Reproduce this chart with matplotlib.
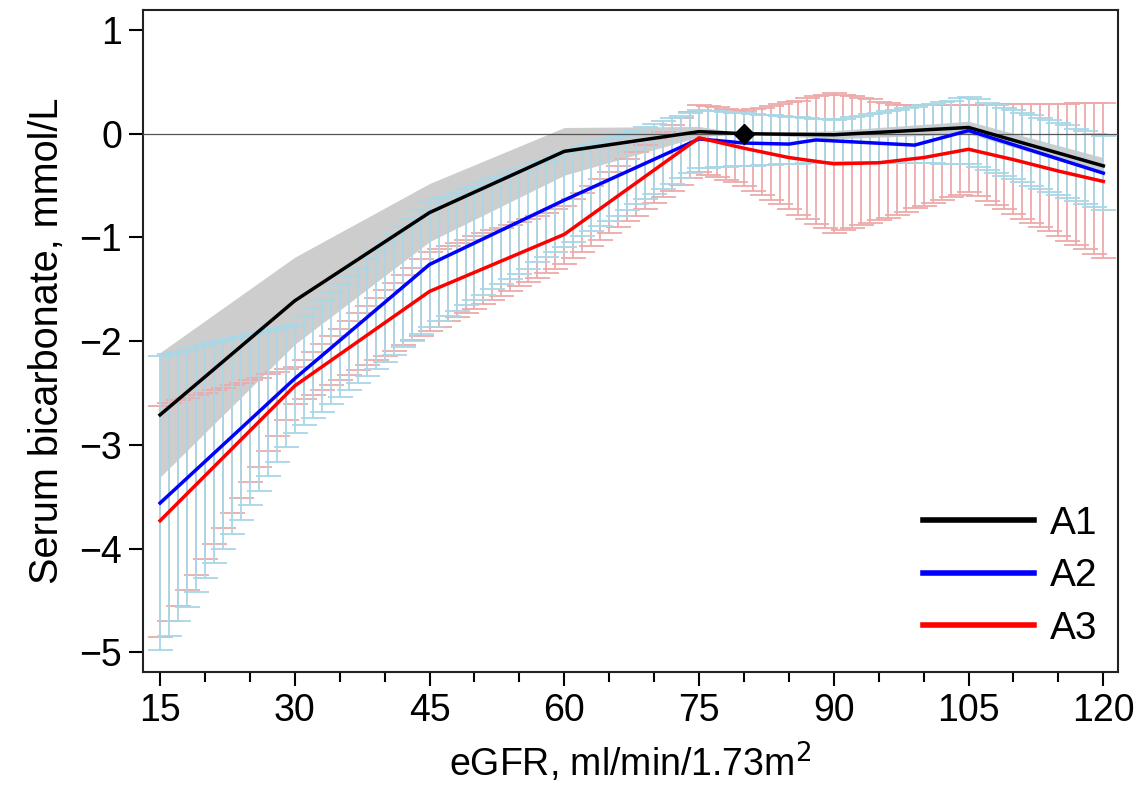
import numpy as np
import matplotlib
matplotlib.use("Agg")
import matplotlib.pyplot as plt
from matplotlib.ticker import MultipleLocator

plt.rcParams['font.family'] = ['Liberation Sans', 'DejaVu Sans']

# ---- data ----
labels = ["A1", "A2", "A3"]

# mean curves (knots)
a1_x = [15, 30, 45, 60, 75, 80, 90, 105, 120]
a1_y = [-2.71, -1.61, -0.76, -0.17, 0.02, 0.0, -0.01, 0.06, -0.31]
a1_lo = [-3.31, -2.03, -1.04, -0.40, -0.03, 0.0, -0.05, 0.00, -0.39]
a1_hi = [-2.11, -1.19, -0.48, 0.06, 0.07, 0.0, 0.03, 0.12, -0.23]

a2_x = [15, 30, 45, 60, 75, 80, 85, 88, 99, 105, 120]
a2_y = [-3.56, -2.36, -1.26, -0.64, -0.05, -0.09, -0.10, -0.06, -0.11, 0.03, -0.38]

a3_x = [15, 30, 45, 60, 75, 80, 85, 90, 95, 100, 105, 110, 115, 120]
a3_y = [-3.73, -2.43, -1.52, -0.97, -0.04, -0.14, -0.23, -0.29, -0.28, -0.23, -0.15, -0.25, -0.36, -0.46]

ref_x = [80]
ref_y = [0.0]

# error-bar bounds at every eGFR value 15..120
egfr = list(range(15, 121))
a2_lo = [-4.98, -4.84, -4.70, -4.56, -4.42, -4.28, -4.14, -4.00, -3.86, -3.72, -3.58, -3.44, -3.30, -3.16, -3.02, -2.88,
         -2.81, -2.74, -2.68, -2.61, -2.54, -2.47, -2.40, -2.34, -2.27, -2.20, -2.13, -2.06, -2.00, -1.93, -1.86,
         -1.81, -1.76, -1.71, -1.65, -1.60, -1.55, -1.50, -1.45, -1.40, -1.35, -1.30, -1.24, -1.19, -1.14, -1.09,
         -1.04, -0.99, -0.94, -0.89, -0.84, -0.79, -0.74, -0.68, -0.63, -0.58, -0.53, -0.48, -0.43, -0.38, -0.33,
         -0.33, -0.32, -0.32, -0.31, -0.31, -0.31, -0.30, -0.30, -0.29, -0.29, -0.29, -0.28, -0.28, -0.27, -0.27,
         -0.27, -0.27, -0.27, -0.28, -0.28, -0.28, -0.28, -0.28, -0.28, -0.28, -0.28, -0.29, -0.29, -0.29, -0.29,
         -0.32, -0.35, -0.38, -0.41, -0.44, -0.47, -0.50, -0.53, -0.56, -0.59, -0.62, -0.65, -0.68, -0.71, -0.74]
a2_hi = [-2.14, -2.12, -2.10, -2.08, -2.06, -2.04, -2.02, -2.00, -1.98, -1.96, -1.94, -1.92, -1.90, -1.88, -1.86, -1.84,
         -1.76, -1.68, -1.60, -1.53, -1.45, -1.37, -1.29, -1.21, -1.13, -1.05, -0.97, -0.90, -0.82, -0.74, -0.66,
         -0.63, -0.60, -0.57, -0.53, -0.50, -0.47, -0.44, -0.41, -0.38, -0.35, -0.32, -0.28, -0.25, -0.22, -0.19,
         -0.16, -0.13, -0.11, -0.08, -0.05, -0.02, 0.01, 0.03, 0.06, 0.09, 0.12, 0.15, 0.17, 0.20, 0.23,
         0.22, 0.22, 0.21, 0.20, 0.20, 0.19, 0.18, 0.18, 0.17, 0.16, 0.16, 0.15, 0.14, 0.14, 0.13,
         0.14, 0.16, 0.17, 0.19, 0.20, 0.22, 0.23, 0.25, 0.26, 0.28, 0.29, 0.31, 0.32, 0.34, 0.35,
         0.33, 0.30, 0.28, 0.25, 0.23, 0.20, 0.18, 0.15, 0.13, 0.10, 0.08, 0.05, 0.03, 0.00, -0.02]
a3_lo = [-4.85, -4.70, -4.55, -4.40, -4.25, -4.10, -3.95, -3.80, -3.66, -3.51, -3.36, -3.21, -3.06, -2.91, -2.76, -2.61,
         -2.56, -2.52, -2.47, -2.42, -2.37, -2.33, -2.28, -2.23, -2.18, -2.14, -2.09, -2.04, -1.99, -1.95, -1.90,
         -1.86, -1.81, -1.77, -1.73, -1.69, -1.64, -1.60, -1.56, -1.52, -1.47, -1.43, -1.39, -1.34, -1.30, -1.26,
         -1.20, -1.14, -1.08, -1.02, -0.96, -0.90, -0.84, -0.79, -0.73, -0.67, -0.61, -0.55, -0.49, -0.43, -0.37,
         -0.40, -0.42, -0.45, -0.47, -0.50,
         -0.55, -0.59, -0.64, -0.68, -0.73, -0.78, -0.82, -0.87, -0.91, -0.96,
         -0.93, -0.91, -0.88, -0.86, -0.83, -0.81, -0.78,
         -0.75, -0.72, -0.70, -0.67, -0.64, -0.61, -0.59, -0.56,
         -0.60, -0.65, -0.69, -0.73, -0.77, -0.82, -0.86, -0.90, -0.94, -0.99, -1.03, -1.07, -1.11, -1.16, -1.20]
a3_hi = [-2.62, -2.60, -2.57, -2.55, -2.52, -2.50, -2.47, -2.45, -2.42, -2.40, -2.37, -2.35, -2.32, -2.30, -2.27, -2.25,
         -2.18, -2.10, -2.03, -1.95, -1.88, -1.81, -1.73, -1.66, -1.58, -1.51, -1.44, -1.36, -1.29, -1.21, -1.14,
         -1.11, -1.08, -1.05, -1.02, -0.99, -0.96, -0.93, -0.91, -0.88, -0.85, -0.82, -0.79, -0.76, -0.73, -0.70,
         -0.63, -0.57, -0.50, -0.44, -0.37, -0.31, -0.24, -0.18, -0.11, -0.05, 0.02, 0.08, 0.15, 0.21, 0.28,
         0.27, 0.26, 0.24, 0.23, 0.22,
         0.24, 0.25, 0.27, 0.29, 0.31, 0.32, 0.34, 0.36, 0.37, 0.39,
         0.37, 0.36, 0.34, 0.33, 0.31, 0.30, 0.28,
         0.28, 0.28, 0.28, 0.28, 0.28, 0.28, 0.28, 0.28,
         0.28, 0.28, 0.28, 0.29, 0.29, 0.29, 0.29, 0.29, 0.29, 0.29, 0.29, 0.30, 0.30, 0.30, 0.30]

xticks = [15, 30, 45, 60, 75, 90, 105, 120]
yticks = [1, 0, -1, -2, -3, -4, -5]

# ---- plotting ----
fig = plt.figure(figsize=(11.44, 7.88), dpi=100)
ax = fig.add_axes([0.125, 0.147, 0.852, 0.84])

ax.fill_between(a1_x, a1_lo, a1_hi, color='#cdcdcd', lw=0, zorder=1)


def bars(lo, hi, color):
    lo = np.asarray(lo)
    hi = np.asarray(hi)
    mid = (lo + hi) / 2
    err = (hi - lo) / 2
    ax.errorbar(egfr, mid, yerr=err, fmt='none', ecolor=color, elinewidth=1.3,
                capsize=9, capthick=1.3, zorder=2)


bars(a3_lo, a3_hi, '#eeaaaa')
bars(a2_lo, a2_hi, '#a9d7e6')

ax.axhline(0, color='#555555', lw=0.9, zorder=3)

ax.plot(a1_x, a1_y, color='black', lw=2.5, label=labels[0], zorder=5)
ax.plot(a2_x, a2_y, color='#0000ff', lw=2.5, label=labels[1], zorder=5)
ax.plot(a3_x, a3_y, color='#ff0000', lw=2.5, label=labels[2], zorder=5)
ax.plot(ref_x, ref_y, marker='D', color='black', ms=10, ls='none', zorder=6)

ax.set_xlim(13.1, 121.6)
ax.set_ylim(-5.19, 1.19)
ax.set_xticks(xticks)
ax.set_yticks(yticks)
ax.xaxis.set_minor_locator(MultipleLocator(5))
ax.tick_params(axis='both', which='major', direction='out', length=10, width=1.5,
               labelsize=27, pad=5)
ax.tick_params(axis='x', which='minor', direction='out', length=7, width=1.5)
for s in ax.spines.values():
    s.set_linewidth(1.5)
    s.set_color('#222222')

ax.set_xlabel('eGFR, ml/min/1.73m$^2$', fontsize=27, labelpad=8)
ax.set_ylabel('Serum bicarbonate, mmol/L', fontsize=28.5, labelpad=10)

leg = ax.legend(loc='lower right', frameon=False, fontsize=28, handlelength=2.85,
                handletextpad=0.4, labelspacing=0.42, borderaxespad=0.0,
                bbox_to_anchor=(0.995, 0.015))
for h in leg.legend_handles:
    h.set_linewidth(4)

fig.savefig('out.png', dpi=100)
